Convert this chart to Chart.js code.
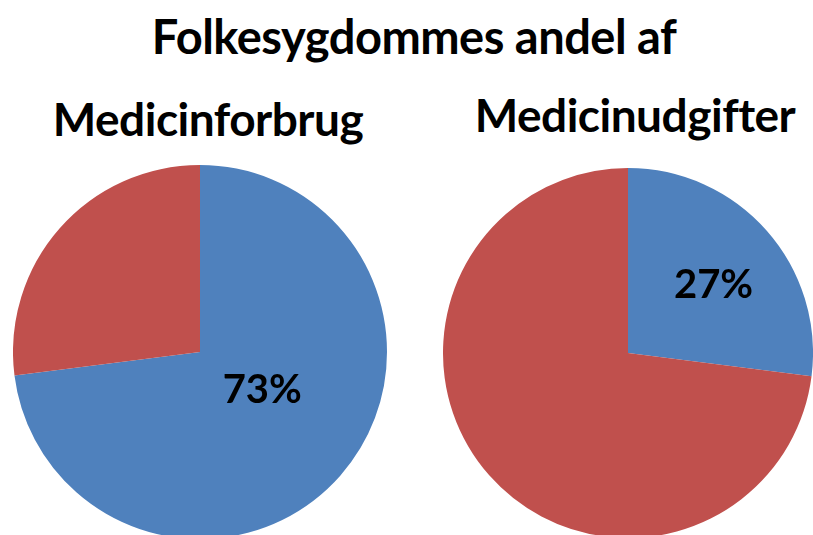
<!DOCTYPE html>
<html>
<head>
<meta charset="utf-8">
<script src="https://cdn.jsdelivr.net/npm/chart.js@4/dist/chart.umd.min.js"></script>
<style>
  html, body { margin: 0; padding: 0; background: #fff; overflow: hidden; }
  body { width: 813px; height: 535px; position: relative; font-family: Lato, "DejaVu Sans", sans-serif; }
  .txt { position: absolute; font-weight: 700; color: #000; white-space: nowrap; transform: translateX(-50%); line-height: 1; letter-spacing: -0.5px; }
  #title { left: 414px; top: 13px; font-size: 47px; }
  #sub1 { left: 208px; top: 96px; font-size: 46px; }
  #sub2 { left: 635px; top: 92px; font-size: 46px; }
  canvas { position: absolute; }
  #pie1 { left: 13px; top: 165px; }
  #pie2 { left: 443px; top: 168px; }
</style>
</head>
<body>
<div class="txt" id="title"></div>
<div class="txt" id="sub1"></div>
<div class="txt" id="sub2"></div>
<canvas id="pie1" width="374" height="374"></canvas>
<canvas id="pie2" width="370" height="370"></canvas>
<script>
  // data
  const mainTitle = "Folkesygdommes andel af";
  const sliceLabels = ["Folkesygdomme", "Øvrige"];
  const forbrugValues = [73, 27];
  const udgifterValues = [27, 73];
  const subtitles = ["Medicinforbrug", "Medicinudgifter"];

  const blue = "#4F81BD";
  const red = "#C0504D";

  document.getElementById("title").textContent = mainTitle;
  document.getElementById("sub1").textContent = subtitles[0];
  document.getElementById("sub2").textContent = subtitles[1];

  // draws the percent label of the first (blue) slice
  const pctLabel = {
    id: "pctLabel",
    afterDatasetsDraw(chart, args, opts) {
      const arc = chart.getDatasetMeta(0).data[0];
      const ds = chart.data.datasets[0];
      const total = ds.data.reduce((a, b) => a + b, 0);
      const pct = Math.round(ds.data[0] / total * 100) + "%";
      const mid = (arc.startAngle + arc.endAngle) / 2 + opts.angleShift * Math.PI / 180;
      const r = arc.outerRadius * opts.radiusFrac;
      const ctx = chart.ctx;
      ctx.save();
      ctx.font = "700 40px Lato, sans-serif";
      ctx.fillStyle = "#000";
      ctx.textAlign = "center";
      ctx.textBaseline = "middle";
      ctx.fillText(pct, arc.x + Math.cos(mid) * r, arc.y + Math.sin(mid) * r);
      ctx.restore();
    }
  };

  function makePie(id, values, labelOpts) {
    return new Chart(document.getElementById(id), {
      type: "pie",
      data: {
        labels: sliceLabels,
        datasets: [{
          data: values,
          backgroundColor: [blue, red],
          borderWidth: 0
        }]
      },
      options: {
        responsive: false,
        animation: false,
        layout: { padding: 0 },
        plugins: {
          legend: { display: false },
          tooltip: { enabled: false },
          pctLabel: labelOpts
        }
      },
      plugins: [pctLabel]
    });
  }

  // Left pie
  makePie("pie1", forbrugValues, { radiusFrac: 0.39, angleShift: -10 });
  // Right pie
  makePie("pie2", udgifterValues, { radiusFrac: 0.59, angleShift: 3 });
</script>
</body>
</html>
